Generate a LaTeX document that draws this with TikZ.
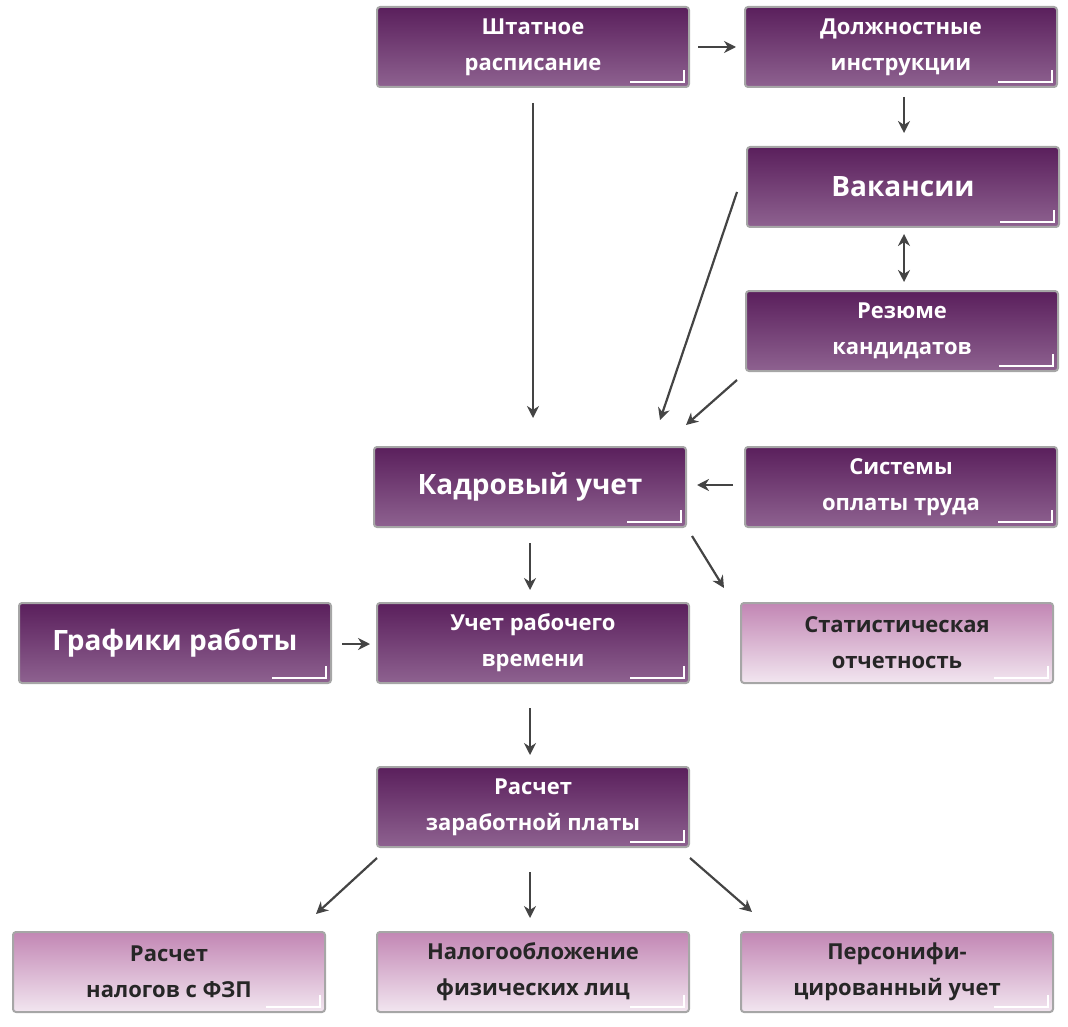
\documentclass[tikz,border=0pt]{standalone}
\usepackage{fontspec}
\setmainfont{Open Sans}
\usetikzlibrary{arrows.meta}
\definecolor{dk}{HTML}{5A1F5C}
\definecolor{dkb}{HTML}{8E6290}
\definecolor{lt}{HTML}{C286B4}
\definecolor{ltb}{HTML}{F2E6F0}
\definecolor{ar}{HTML}{444444}
\begin{document}
\begin{tikzpicture}[x=1pt,y=-1pt,
 box/.style={draw=gray!70,line width=2pt,rounded corners=3pt,minimum width=312pt,minimum height=80pt,align=center,font=\bfseries\fontsize{22}{36}\selectfont,inner sep=0pt},
 dark/.style={box,top color=dk,bottom color=dkb,text=white},
 light/.style={box,top color=lt,bottom color=ltb,text=black!85},
 big/.style={font=\bfseries\fontsize{28}{36}\selectfont},
 arr/.style={draw=ar,line width=2.2pt,-{Stealth[length=12pt,width=12pt]}},
 barr/.style={draw=ar,line width=2.2pt,{Stealth[length=12pt,width=12pt]}-{Stealth[length=12pt,width=12pt]}}]
\useasboundingbox (0,0) rectangle (1068,1027);
\node[dark] (sh) at (533,47) {Штатное\\расписание};
\node[dark] (do) at (901,47) {Должностные\\инструкции};
\node[dark,big] (va) at (903,187) {Вакансии};
\node[dark] (re) at (902,331) {Резюме\\кандидатов};
\node[dark,big] (ka) at (530,487) {Кадровый учет};
\node[dark] (si) at (901,487) {Системы\\оплаты труда};
\node[dark,big] (gr) at (175,643) {Графики работы};
\node[dark] (ur) at (533,643) {Учет рабочего\\времени};
\node[light] (st) at (897,643) {Статистическая\\отчетность};
\node[dark] (rz) at (533,807) {Расчет\\заработной платы};
\node[light] (rn) at (169,972) {Расчет\\налогов с ФЗП};
\node[light] (na) at (533,972) {Налогообложение\\физических лиц};
\node[light] (pe) at (897,972) {Персонифи-\\цированный учет};
\foreach \n in {sh,do,va,re,ka,si,gr,ur,st,rz,rn,na,pe}
  \draw[white,line width=1.5pt] ([xshift=-60pt,yshift=6pt]\n.south east) -- ([xshift=-6pt,yshift=6pt]\n.south east) -- ([xshift=-6pt,yshift=18pt]\n.south east);
\coordinate (a1) at (698,47); \coordinate (a2) at (736,47);
\draw[arr] (a1) -- (a2);
\coordinate (b1) at (904,97); \coordinate (b2) at (904,133);
\draw[arr] (b1) -- (b2);
\coordinate (c1) at (904,234); \coordinate (c2) at (904,282);
\draw[barr] (c1) -- (c2);
\coordinate (d1) at (533,103); \coordinate (d2) at (533,418);
\draw[arr] (d1) -- (d2);
\coordinate (e1) at (737,192); \coordinate (e2) at (660,420);
\draw[arr] (e1) -- (e2);
\coordinate (f1) at (737,380); \coordinate (f2) at (686,425);
\draw[arr] (f1) -- (f2);
\coordinate (g1) at (733,485); \coordinate (g2) at (697,485);
\draw[arr] (g1) -- (g2);
\coordinate (h1) at (530,543); \coordinate (h2) at (530,590);
\draw[arr] (h1) -- (h2);
\coordinate (i1) at (692,536); \coordinate (i2) at (724,588);
\draw[arr] (i1) -- (i2);
\coordinate (j1) at (342,644); \coordinate (j2) at (370,644);
\draw[arr] (j1) -- (j2);
\coordinate (k1) at (530,708); \coordinate (k2) at (530,755);
\draw[arr] (k1) -- (k2);
\coordinate (l1) at (377,858); \coordinate (l2) at (316,914);
\draw[arr] (l1) -- (l2);
\coordinate (m1) at (530,872); \coordinate (m2) at (530,918);
\draw[arr] (m1) -- (m2);
\coordinate (n1) at (690,858); \coordinate (n2) at (752,912);
\draw[arr] (n1) -- (n2);
\end{tikzpicture}
\end{document}
